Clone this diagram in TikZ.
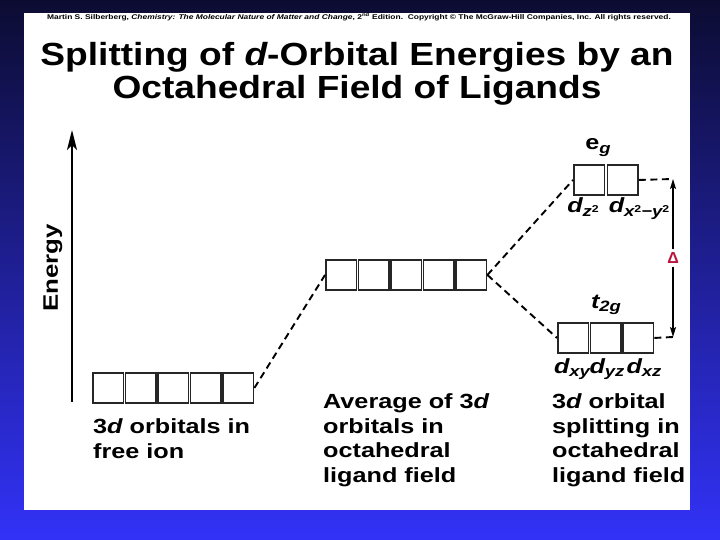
\documentclass[tikz,border=0pt]{standalone}
\usepackage{fontspec}
\setmainfont{Liberation Sans}
\usepackage{graphicx}
\usetikzlibrary{arrows.meta}
\definecolor{bgtop}{RGB}{12,12,50}
\definecolor{bgmid}{RGB}{40,40,190}
\definecolor{bgbot}{RGB}{50,50,248}
\definecolor{deltared}{RGB}{185,20,60}
\newcommand\hs[1]{\scalebox{1.23}[1]{#1}}
\newcommand\sbs[1]{\raisebox{-3.5pt}{\fontsize{15}{15}\selectfont\itshape #1}}
\newcommand\sps[1]{\raisebox{4.5pt}{\fontsize{10}{10}\selectfont\upshape #1}}
\begin{document}
\begin{tikzpicture}[x=1pt,y=-1pt,
  orb/.style={draw=black!85, line width=1.9pt, minimum width=30.5pt, minimum height=30pt, inner sep=0pt, anchor=north west},
  conn/.style={line width=1.9pt, dash pattern=on 7pt off 4.5pt},
  body/.style={font=\bfseries\fontsize{20.5}{24.6}\selectfont, inner sep=0pt, anchor=base west},
  lab/.style={font=\bfseries\fontsize{20.5}{24.6}\selectfont, inner sep=0pt, anchor=base},
  ttl/.style={font=\bfseries\fontsize{32}{34}\selectfont, inner sep=0pt, anchor=base}]
\useasboundingbox (0,0) rectangle (720,540);
\shade[top color=bgtop, middle color=bgmid, bottom color=bgbot] (0,0) rectangle (720,540);
\fill[white] (24,13) rectangle (690,510);
% copyright
\node[font=\bfseries\fontsize{6.85}{8}\selectfont, inner sep=0pt, anchor=base] (copy) at (359,20)
  {\hs{Martin S. Silberberg, \textit{Chemistry: The Molecular Nature of Matter and Change}, 2\textsuperscript{nd} Edition.\ \ Copyright \textcopyright\ The McGraw-Hill Companies, Inc. All rights reserved.}};
% title
\node[ttl] (title1) at (357,66) {\scalebox{1.16}[1]{Splitting of {\itshape d}-Orbital Energies by an}};
\node[ttl] (title2) at (357,99) {\scalebox{1.16}[1]{Octahedral Field of Ligands}};
% energy axis
\coordinate (ebot) at (72,402);
\coordinate (etop) at (72,130);
\draw[line width=1.6pt, -{Stealth[length=20pt,width=10pt,inset=5pt]}] (ebot) -- (etop);
\node[font=\bfseries\fontsize{21}{24}\selectfont, rotate=90, inner sep=0pt] (energy) at (53,268) {\hs{Energy}};
% orbital boxes
\foreach \i in {0,...,4} \node[orb] (f\i) at ({92+32.5*\i},372) {};
\foreach \i in {0,...,4} \node[orb] (m\i) at ({325+32.5*\i},259) {};
\foreach \i in {0,1} \node[orb] (e\i) at ({573+33.5*\i},164) {};
\foreach \i in {0,...,2} \node[orb] (t\i) at ({557+32.5*\i},322) {};
% connectors
\draw[conn] (f4.east) -- (m0.west);
\draw[conn] (m4.east) -- (e0.west);
\draw[conn] (m4.east) -- (t0.west);
\coordinate (dtop) at (673,179);
\coordinate (dbot) at (673,337);
\draw[conn] (e1.east) -- (dtop);
\draw[conn] (t2.east) -- (dbot);
\node[text=deltared, font=\bfseries\fontsize{16}{16}\selectfont, inner sep=3pt] (delta) at (673,258) {Δ};
\draw[line width=1.3pt, -{Stealth[length=10pt,width=6pt,inset=2pt]}] (delta) -- (dtop);
\draw[line width=1.3pt, -{Stealth[length=10pt,width=6pt,inset=2pt]}] (delta) -- (dbot);
% orbital labels
\node[lab] (eg) at (598,150) {\hs{e\sbs{g}}};
\node[lab] (dz) at (583,213) {\hs{{\itshape d}\sbs{z\sps{2}}}};
\node[lab] (dx) at (639,213) {\hs{{\itshape d}\sbs{x\sps{2}−y\sps{2}}}};
\node[lab] (t2g) at (606,308) {\hs{{\itshape t}\sbs{2g}}};
\node[lab] (dxy) at (572,373) {\hs{{\itshape d}\sbs{xy}}};
\node[lab] (dyz) at (607,373) {\hs{{\itshape d}\sbs{yz}}};
\node[lab] (dxz) at (644,373) {\hs{{\itshape d}\sbs{xz}}};
% captions
\node[body] (a1) at (93,433) {\hs{3{\itshape d} orbitals in}};
\node[body] (a2) at (93,458) {\hs{free ion}};
\node[body] (b1) at (323,408) {\hs{Average of 3{\itshape d}}};
\node[body] (b2) at (323,433) {\hs{orbitals in}};
\node[body] (b3) at (323,457) {\hs{octahedral}};
\node[body] (b4) at (323,482) {\hs{ligand field}};
\node[body] (c1) at (552,408) {\hs{3{\itshape d} orbital}};
\node[body] (c2) at (552,433) {\hs{splitting in}};
\node[body] (c3) at (552,457) {\hs{octahedral}};
\node[body] (c4) at (552,482) {\hs{ligand field}};
\end{tikzpicture}
\end{document}
